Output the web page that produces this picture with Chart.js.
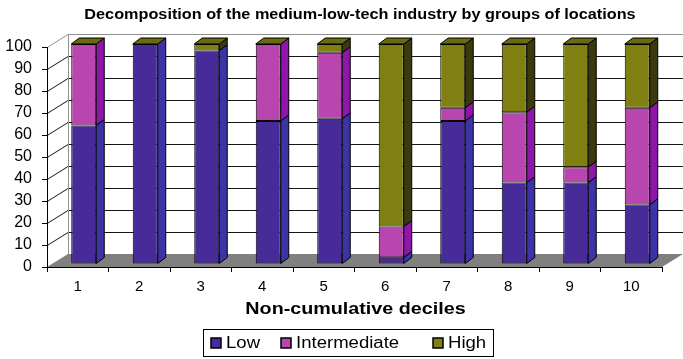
<!DOCTYPE html>
<html>
<head>
<meta charset="utf-8">
<style>
  html, body { margin: 0; padding: 0; background: #ffffff; }
  #wrap { width: 683px; height: 359px; }
</style>
<script src="https://cdn.jsdelivr.net/npm/chart.js@4.4.1/dist/chart.umd.min.js"></script>
</head>
<body>
<div id="wrap"><canvas id="chart" width="683" height="359"></canvas></div>
<script>
// Share of establishments (%) per location group, by non-cumulative decile
const categories = ['1', '2', '3', '4', '5', '6', '7', '8', '9', '10'];
const lowShare          = [63, 100, 97, 65, 66,  3, 65, 37, 37, 27];
const intermediateShare = [37,   0,  0, 35, 30, 14,  6, 32,  7, 44];
const highShare         = [ 0,   0,  3,  0,  4, 83, 29, 31, 56, 29];
const yTickValues = [0, 10, 20, 30, 40, 50, 60, 70, 80, 90, 100];
const seriesNames = ['Low', 'Intermediate', 'High'];

const chartTitle = 'Decomposition of the medium-low-tech industry by groups of locations';
const xAxisTitle = 'Non-cumulative deciles';

const FONT = '"Liberation Sans", Arial, Helvetica, sans-serif';
const TEXT_STRETCH = 1.16;   // text is set slightly wide

// face colours: front, side, top
const palette = [
  { front: '#472b98', side: '#3b33a6' },
  { front: '#b846ae', side: '#8e16a8' },
  { front: '#808012', side: '#3a3a0e', top: '#6a6a12' }
];

// pseudo-3D geometry
const WALL = { dx: 21, dy: -13 };     // depth of floor / side wall
const SHIFT = { dx: 6, dy: -3 };      // bars sit a little into the depth
const BAR = { dx: 8, dy: -6 };        // thickness of each bar

// legend layout
const LEGEND_BOX = { left: 203.5, top: 329.5, width: 290, height: 27 };
const LEGEND_ITEM_X = [210, 280, 432];

function poly(ctx, pts) {
  ctx.beginPath();
  ctx.moveTo(pts[0][0], pts[0][1]);
  for (let i = 1; i < pts.length; i++) ctx.lineTo(pts[i][0], pts[i][1]);
  ctx.closePath();
}

function wideText(ctx, text, x, y, align) {
  ctx.save();
  ctx.translate(x, y);
  ctx.scale(TEXT_STRETCH, 1);
  ctx.textAlign = align;
  ctx.fillText(text, 0, 0);
  ctx.restore();
}

// The "wall" axis carries the gridlines: drawn once pushed back onto the
// back wall, and once sheared onto the left side wall.
function projectWallAxis(chart) {
  const wall = chart.scales.wall;
  if (!wall || wall._projected) return;
  wall._projected = true;
  const drawGrid = wall.drawGrid.bind(wall);
  const drawBorder = wall.drawBorder.bind(wall);
  const k = WALL.dy / WALL.dx;
  wall.drawGrid = function (area) {
    const ctx = this.ctx;
    const L = chart.chartArea.left;
    // back wall
    ctx.save();
    ctx.translate(WALL.dx, WALL.dy);
    drawGrid(area);
    ctx.restore();
    // side wall
    ctx.save();
    ctx.beginPath();
    ctx.rect(L, 0, WALL.dx, chart.height);
    ctx.clip();
    ctx.transform(1, k, 0, 1, 0, -L * k);
    drawGrid(area);
    ctx.restore();
  };
  wall.drawBorder = function () {
    const ctx = this.ctx;
    ctx.save();
    ctx.translate(WALL.dx, WALL.dy);
    drawBorder();
    ctx.restore();
  };
}

const depthPlugin = {
  id: 'depth3d',
  beforeDraw(chart) {
    projectWallAxis(chart);
  },
  beforeDatasetsDraw(chart) {
    const { ctx, chartArea: a } = chart;
    const L = a.left, R = a.right, B = a.bottom;
    // floor
    ctx.save();
    ctx.fillStyle = '#808080';
    poly(ctx, [[L, B], [R, B], [R + WALL.dx, B + WALL.dy], [L + WALL.dx, B + WALL.dy]]);
    ctx.fill();
    ctx.restore();
    // the bars stand a little behind the front plane
    ctx.save();
    ctx.translate(SHIFT.dx, SHIFT.dy);
  },
  afterDatasetsDraw(chart) {
    const { ctx } = chart;
    const n = chart.data.labels.length;
    const metas = chart.data.datasets.map((_, d) => chart.getDatasetMeta(d));
    ctx.lineWidth = 1;
    ctx.strokeStyle = '#000000';
    ctx.lineJoin = 'round';
    for (let i = 0; i < n; i++) {
      let topY = null, xL = 0, xR = 0;
      metas.forEach((meta, d) => {
        const el = meta.data[i];
        const p = el.getProps(['x', 'y', 'base', 'width'], true);
        xL = p.x - p.width / 2;
        xR = p.x + p.width / 2;
        const yt = Math.min(p.y, p.base), yb = Math.max(p.y, p.base);
        if (topY === null || yt < topY) topY = yt;
        if (yb - yt < 0.5) return;
        // right side face of this segment
        ctx.fillStyle = palette[d].side;
        poly(ctx, [[xR, yt], [xR + BAR.dx, yt + BAR.dy], [xR + BAR.dx, yb + BAR.dy], [xR, yb]]);
        ctx.fill();
        ctx.stroke();
      });
      // top face of the stack
      ctx.fillStyle = palette[2].top;
      poly(ctx, [[xL, topY], [xL + BAR.dx, topY + BAR.dy], [xR + BAR.dx, topY + BAR.dy], [xR, topY]]);
      ctx.fill();
      ctx.stroke();
    }
    ctx.restore();
  },
  afterDraw(chart) {
    const { ctx, chartArea: a } = chart;
    ctx.save();
    ctx.fillStyle = '#000000';
    ctx.textBaseline = 'middle';
    // chart title
    ctx.font = 'bold 14px ' + FONT;
    wideText(ctx, chartTitle, 360, 15, 'center');
    // x axis title
    ctx.font = 'bold 17px ' + FONT;
    wideText(ctx, xAxisTitle, (a.left + a.right) / 2 + 1, 309, 'center');

    // legend
    ctx.font = '16px ' + FONT;
    const box = 10;
    const midY = LEGEND_BOX.top + LEGEND_BOX.height / 2;
    chart.data.datasets.forEach((ds, d) => {
      const x = LEGEND_ITEM_X[d];
      ctx.fillStyle = ds.backgroundColor;
      ctx.fillRect(x + 1, midY - box / 2, box, box);
      ctx.strokeStyle = '#000000';
      ctx.lineWidth = 1.5;
      ctx.strokeRect(x + 1, midY - box / 2, box, box);
      ctx.fillStyle = '#000000';
      wideText(ctx, ds.label, x + box + 6, midY + 1, 'left');
    });
    ctx.lineWidth = 1;
    ctx.strokeStyle = '#000000';
    ctx.strokeRect(LEGEND_BOX.left, LEGEND_BOX.top, LEGEND_BOX.width, LEGEND_BOX.height);
    ctx.restore();
  }
};

const values = [lowShare, intermediateShare, highShare];
const datasets = seriesNames.map((name, d) => ({
  label: name,
  data: values[d],
  yAxisID: 'y',
  backgroundColor: palette[d].front,
  borderColor: '#000000',
  borderWidth: 1,
  borderSkipped: false,
  barPercentage: 0.4065,
  categoryPercentage: 1.0,
  clip: false
}));

const lastTick = yTickValues[yTickValues.length - 1];
const setTicks = scale => { scale.ticks = yTickValues.map(v => ({ value: v })); };

new Chart(document.getElementById('chart'), {
  type: 'bar',
  data: { labels: categories, datasets },
  options: {
    responsive: false,
    animation: false,
    layout: { padding: { left: 0, right: 21, top: 47, bottom: 57 } },
    plugins: {
      legend: { display: false },
      title: { display: false },
      tooltip: { enabled: false }
    },
    scales: {
      x: {
        stacked: true,
        offset: true,
        grid: { display: true, drawOnChartArea: false, offset: true, color: '#000000', tickLength: 5, z: 1 },
        border: { display: true, color: '#000000', width: 1, z: 1 },
        ticks: { color: '#000000', font: { family: FONT, size: 15 }, padding: 6, maxRotation: 0, z: 1 }
      },
      y: {
        stacked: true,
        weight: 1,
        min: yTickValues[0],
        max: lastTick,
        afterFit(scale) { scale.width = 47; },
        afterBuildTicks: setTicks,
        grid: { display: true, drawOnChartArea: false, color: '#000000', tickLength: 5, z: 1 },
        border: { display: true, color: '#000000', width: 1, z: 1 },
        ticks: { autoSkip: false, color: '#000000', font: { family: FONT, size: 16 }, padding: 10, z: 1 }
      },
      wall: {
        type: 'linear',
        axis: 'y',
        position: 'left',
        weight: 0,
        min: yTickValues[0],
        max: lastTick,
        afterFit(scale) { scale.width = 0; },
        afterBuildTicks: setTicks,
        grid: {
          display: true,
          drawOnChartArea: true,
          drawTicks: false,
          lineWidth: 1,
          color: c => (c.tick && c.tick.value === yTickValues[0]) ? 'rgba(0,0,0,0)'
                    : (c.tick && c.tick.value === lastTick) ? '#909090' : '#151515'
        },
        border: { display: true, color: '#909090', width: 1 },
        ticks: { display: false, autoSkip: false }
      }
    }
  },
  plugins: [depthPlugin]
});
</script>
</body>
</html>
